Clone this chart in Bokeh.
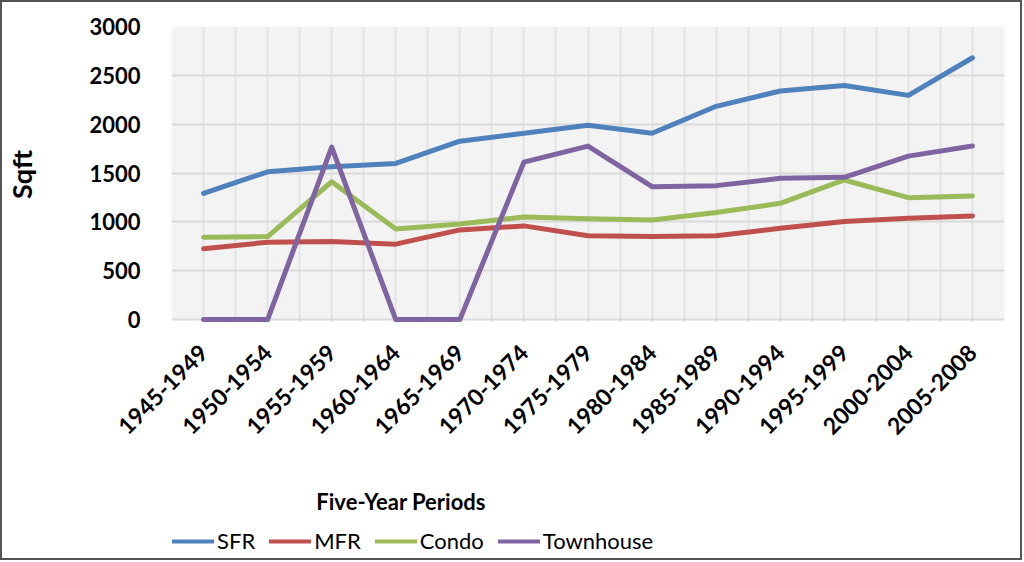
import math
from bokeh.plotting import figure
from bokeh.layouts import column
from bokeh.models import Range1d, FixedTicker, Legend, LegendItem, Label, BoxAnnotation
from bokeh.embed import file_html
from bokeh.resources import INLINE

periods = ["1945-1949", "1950-1954", "1955-1959", "1960-1964", "1965-1969",
           "1970-1974", "1975-1979", "1980-1984", "1985-1989", "1990-1994",
           "1995-1999", "2000-2004", "2005-2008"]
sfr = [1292, 1513, 1564, 1598, 1826, 1908, 1990, 1907, 2183, 2340, 2397, 2295, 2680]
mfr = [724, 792, 799, 772, 918, 959, 858, 850, 857, 935, 1003, 1037, 1061]
condo = [843, 850, 1411, 928, 979, 1051, 1031, 1020, 1095, 1190, 1429, 1248, 1265]
townhouse = [0, 0, 1765, 0, 0, 1612, 1776, 1360, 1371, 1446, 1456, 1673, 1776]

series_names = ["SFR", "MFR", "Condo", "Townhouse"]
series_values = [sfr, mfr, condo, townhouse]
series_colors = ["#4F81BD", "#C0504D", "#9BBB59", "#8064A2"]
y_ticks = [0, 500, 1000, 1500, 2000, 2500, 3000]
x_title = "Five-Year Periods"
y_title = "Sqft"

FONT = "Lato"
xs = list(range(len(periods)))
W = 1018
LEFT, RIGHT = 164, 16

p = figure(width=W, height=443, output_backend="svg", toolbar_location=None,
           x_range=Range1d(-0.5, len(periods) - 0.5), y_range=Range1d(-30, 3000))
p.min_border_left = LEFT
p.min_border_right = RIGHT
p.min_border_top = 24
p.min_border_bottom = 122
p.outline_line_color = None
p.background_fill_color = "white"
p.border_fill_color = "white"

bg = BoxAnnotation(bottom=0, fill_color="#fafafa", fill_alpha=1.0, line_color=None,
                   hatch_pattern="\\", hatch_color="#ececec", hatch_scale=4,
                   hatch_weight=1, level="image")
p.add_layout(bg)

p.xgrid.ticker = FixedTicker(ticks=[-0.5 + 0.5 * i for i in range(2 * len(periods) + 1)])
p.xgrid.grid_line_color = "#e3e3e3"
p.xgrid.grid_line_width = 2
p.ygrid.ticker = FixedTicker(ticks=y_ticks)
p.ygrid.grid_line_color = "#dadada"
p.ygrid.grid_line_width = 2

p.xaxis.ticker = FixedTicker(ticks=xs)
p.xaxis.major_label_overrides = {i: s for i, s in enumerate(periods)}
p.xaxis.major_label_orientation = math.pi / 4
p.xaxis.major_label_text_font = FONT
p.xaxis.major_label_text_font_style = "bold"
p.xaxis.major_label_text_font_size = "23px"
p.xaxis.major_label_text_color = "black"
p.xaxis.major_label_standoff = 20
p.xaxis.major_tick_line_color = None
p.xaxis.minor_tick_line_color = None
p.xaxis.axis_line_color = None

p.yaxis.ticker = FixedTicker(ticks=y_ticks)
p.yaxis.major_label_text_font = FONT
p.yaxis.major_label_text_font_style = "bold"
p.yaxis.major_label_text_font_size = "22px"
p.yaxis.major_label_text_color = "black"
p.yaxis.major_label_standoff = 25
p.yaxis.major_tick_line_color = None
p.yaxis.minor_tick_line_color = None
p.yaxis.axis_line_color = None
p.yaxis.axis_label = y_title
p.yaxis.axis_label_text_font = FONT
p.yaxis.axis_label_text_font_style = "bold"
p.yaxis.axis_label_text_font_size = "27px"
p.yaxis.axis_label_text_color = "black"
p.yaxis.axis_label_standoff = 48

renderers = []
for vals, col in zip(series_values, series_colors):
    r = p.line(xs, vals, line_color=col, line_width=5, line_cap="round", line_join="round")
    renderers.append(r)

# strip below the chart: axis title and legend (pixel-like data units)
QH = 113
FW = W - LEFT - RIGHT
q = figure(width=W, height=QH, output_backend="svg", toolbar_location=None,
           x_range=Range1d(0, FW), y_range=Range1d(-5000, -5000 + QH),
           x_axis_location=None, y_axis_location=None)
q.min_border_left = LEFT
q.min_border_right = RIGHT
q.min_border_top = 0
q.min_border_bottom = 0
q.outline_line_color = None
q.grid.visible = False
q.background_fill_color = "white"
q.border_fill_color = "white"

leg_renderers = [q.line(xs, vals, line_color=col, line_width=4, line_cap="round")
                 for vals, col in zip(series_values, series_colors)]

title = Label(x=231, y=-5000 + 57, text=x_title, text_align="center", text_baseline="middle",
              text_font=FONT, text_font_style="bold", text_font_size="22px", text_color="black")
q.add_layout(title)

legend = Legend(items=[LegendItem(label=n, renderers=[r]) for n, r in zip(series_names, leg_renderers)],
                orientation="horizontal", location=(1, 4))
legend.padding = 0
legend.margin = 0
legend.spacing = 14
legend.glyph_width = 42
legend.glyph_height = 20
legend.label_standoff = 3
legend.label_text_font = FONT
legend.label_text_font_size = "22px"
legend.label_text_color = "black"
legend.border_line_color = None
legend.background_fill_alpha = 0
q.add_layout(legend, "center")

layout = column(p, q, spacing=0)
layout.styles = {"border": "2px solid #555555"}

open("out.html", "w").write(file_html(layout, INLINE))
